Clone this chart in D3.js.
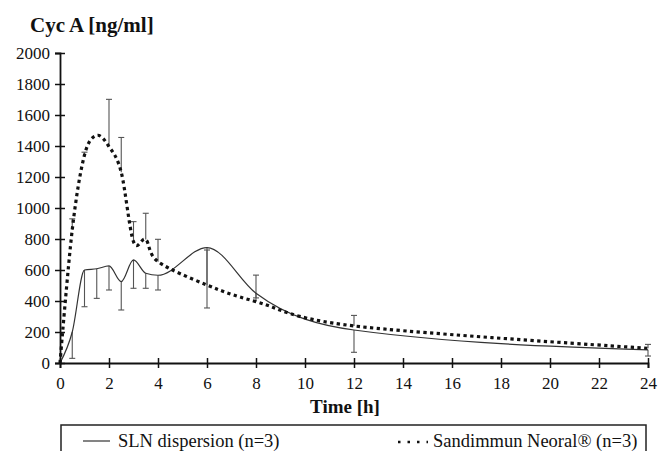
<!DOCTYPE html>
<html>
<head>
<meta charset="utf-8">
<script src="https://cdn.jsdelivr.net/npm/d3@7"></script>
<style>
  body { margin: 0; background: #fff; }
  svg text { font-family: "Liberation Serif", Tinos, "Times New Roman", Times, "DejaVu Serif", serif; fill: #111; }
</style>
</head>
<body>
<div id="chart"></div>
<script>
// sampling times [h]
const times = [0, 0.5, 1, 1.5, 2, 2.5, 3, 3.5, 4, 6, 8, 12, 24];

// SLN dispersion mean and lower error end
const slnMean = [0, 200, 600, 608, 626, 525, 665, 579, 566, 745, 450, 213, 85];
const slnLow = [0, 30, 363, 417, 471, 342, 482, 482, 471, 355, 420, 69, 45];

// Sandimmun Neoral mean and upper error end
const sandMean = [0, 860, 1342, 1468, 1396, 1230, 783, 796, 654, 503, 396, 239, 95];
const sandHigh = [0, 930, 1360, 1468, 1701, 1455, 912, 966, 798, 729, 567, 307, 120];

const xTicks = d3.range(0, 25, 2);
const yTicks = d3.range(0, 2001, 200);

const legendLabels = ["SLN dispersion (n=3)", "Sandimmun Neoral® (n=3)"];

const width = 661, height = 451;
const serif = "'Liberation Serif', Tinos, 'Times New Roman', Times, 'DejaVu Serif', serif";

const svg = d3.select("#chart").append("svg")
    .attr("width", width)
    .attr("height", height)
    .attr("font-family", serif);

const x = d3.scaleLinear().domain([0, 24]).range([60, 648]);
const y = d3.scaleLinear().domain([0, 2000]).range([363, 53]);

// axes
const yAxis = d3.axisLeft(y).tickValues(yTicks).tickSize(5).tickFormat(d3.format("d"));
const gy = svg.append("g").attr("transform", "translate(60,0)").call(yAxis)
    .attr("font-family", serif);
gy.select(".domain").attr("stroke", "#111").attr("stroke-width", 1.8);
gy.selectAll(".tick line").attr("x2", 5).attr("x1", -5).attr("stroke", "#111").attr("stroke-width", 1.5);
gy.selectAll(".tick text").attr("x", -10).attr("font-size", 17).attr("fill", "#111");

const xAxis = d3.axisBottom(x).tickValues(xTicks).tickSize(5);
const gx = svg.append("g").attr("transform", "translate(0,363)").call(xAxis)
    .attr("font-family", serif);
gx.select(".domain").attr("stroke", "#111").attr("stroke-width", 1.8);
gx.selectAll(".tick line").attr("y1", -5).attr("y2", 5).attr("stroke", "#111").attr("stroke-width", 1.5);
gx.selectAll(".tick text").attr("y", 14).attr("font-size", 17).attr("fill", "#111");

svg.append("text")
    .attr("x", 30).attr("y", 32)
    .attr("font-size", 21).attr("font-weight", "bold")
    .text("Cyc A [ng/ml]");

svg.append("text")
    .attr("x", 345).attr("y", 413)
    .attr("text-anchor", "middle")
    .attr("font-size", 19).attr("font-weight", "bold")
    .text("Time [h]");

// error bars
function errorBars(lo, hi) {
    const g = svg.append("g").attr("stroke", "#555").attr("stroke-width", 1.1);
    times.forEach((t, i) => {
        if (t === 0 || Math.abs(hi[i] - lo[i]) < 5) return;
        g.append("line").attr("x1", x(t)).attr("x2", x(t)).attr("y1", y(lo[i])).attr("y2", y(hi[i]));
    });
}
function caps(vals, means) {
    const g = svg.append("g").attr("stroke", "#555").attr("stroke-width", 1.1);
    times.forEach((t, i) => {
        if (t === 0 || Math.abs(vals[i] - means[i]) < 5) return;
        g.append("line").attr("x1", x(t) - 3).attr("x2", x(t) + 3).attr("y1", y(vals[i])).attr("y2", y(vals[i]));
    });
}
errorBars(slnLow, slnMean);
caps(slnLow, slnMean);
errorBars(sandMean, sandHigh);
caps(sandHigh, sandMean);

const slnLine = d3.line()
    .x(d => x(d[0]))
    .y(d => y(d[1]))
    .curve(d3.curveMonotoneX);

const sandLine = d3.line()
    .x(d => x(d[0]))
    .y(d => y(d[1]))
    .curve(d3.curveCardinal.tension(0));

svg.append("path")
    .datum(times.map((t, i) => [t, slnMean[i]]))
    .attr("fill", "none")
    .attr("stroke", "#333")
    .attr("stroke-width", 1.2)
    .attr("d", slnLine);

svg.append("path")
    .datum(times.map((t, i) => [t, sandMean[i]]))
    .attr("fill", "none")
    .attr("stroke", "#111")
    .attr("stroke-width", 3.2)
    .attr("stroke-dasharray", "3.3,3.4")
    .attr("d", sandLine);

// legend
const lg = svg.append("g");
lg.append("rect")
    .attr("x", 61).attr("y", 425)
    .attr("width", 585).attr("height", 40)
    .attr("fill", "none").attr("stroke", "#222").attr("stroke-width", 1.5);
lg.append("line")
    .attr("x1", 83).attr("x2", 110).attr("y1", 441).attr("y2", 441)
    .attr("stroke", "#333").attr("stroke-width", 1.2);
lg.append("text")
    .attr("x", 118).attr("y", 447)
    .attr("font-size", 18.5)
    .text(legendLabels[0]);
lg.append("line")
    .attr("x1", 398).attr("x2", 428).attr("y1", 442).attr("y2", 442)
    .attr("stroke", "#111").attr("stroke-width", 2.5)
    .attr("stroke-dasharray", "2.5,7");
lg.append("text")
    .attr("x", 433).attr("y", 447)
    .attr("font-size", 18.5)
    .text(legendLabels[1]);
</script>
</body>
</html>
